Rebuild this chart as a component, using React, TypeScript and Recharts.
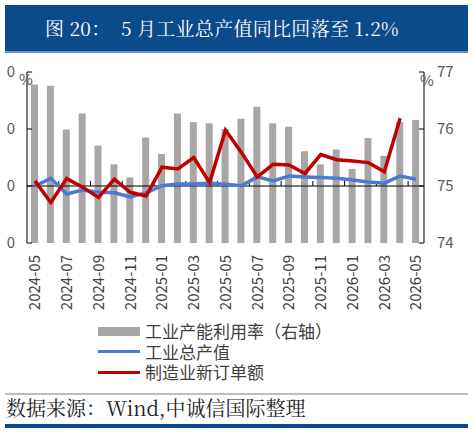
import React from "react";
import {
  ComposedChart,
  Bar,
  Line,
  XAxis,
  YAxis,
  ReferenceLine,
} from "recharts";

// monthly series, 2024-05 .. 2026-05
const months = [
  "2024-05", "2024-06", "2024-07", "2024-08", "2024-09", "2024-10", "2024-11", "2024-12",
  "2025-01", "2025-02", "2025-03", "2025-04", "2025-05", "2025-06", "2025-07", "2025-08",
  "2025-09", "2025-10", "2025-11", "2025-12", "2026-01", "2026-02", "2026-03", "2026-04",
  "2026-05",
];

// 工业产能利用率 (%), right axis
const capacityUse = [
  76.78, 76.76, 75.99, 76.27, 75.71, 75.38, 75.15, 75.85,
  75.56, 76.27, 76.12, 76.1, 76.0, 76.18, 76.39, 76.1,
  76.04, 75.61, 75.38, 75.64, 75.3, 75.84, 75.53, 76.12,
  76.16,
];

// 工业总产值 同比 (%), left axis
const grossOutput = [
  0, 1.35, -1.4, -0.7, -1.1, -1.2, -1.9, -1.2,
  0.05, 0.35, 0.35, 0.5, 0.3, 0.05, 1.6, 0.9,
  1.75, 1.6, 1.5, 1.35, 1.05, 0.7, 0.5, 1.75,
  1.2,
];

// 制造业新订单额 (%), left axis; no print for the last month
const newOrders: (number | null)[] = [
  0.9, -2.9, 1.3, -0.2, -2.0, 1.2, -1.1, -1.75,
  3.3, 3.0, 5.0, 0.6, 9.8, 5.9, 1.6, 3.8,
  3.7, 2.2, 5.5, 4.6, 4.4, 4.1, 2.5, 11.9,
  null,
];

const leftTicks = [-10, 0, 10, 20];
const rightTicks = [74, 75, 76, 77];

const data = months.map((m, i) => ({
  month: m,
  capacity: capacityUse[i],
  output: grossOutput[i],
  orders: newOrders[i],
}));

const AXIS_FONT = '"Noto Sans CJK SC", "Noto Sans", sans-serif';
const TITLE_FONT = '"Noto Serif CJK SC", "Noto Sans Mono CJK SC", "Noto Sans CJK SC", serif';
const GRAY = "#aaa6a6";
const BLUE = "#4a7ad4";
const RED = "#c00000";

const LeftTick = (props: any) => {
  const { x, y, payload } = props;
  return (
    <g>
      <line x1={x + 12} x2={x + 17} y1={y} y2={y} stroke="#000" />
      <text x={x} y={y} dy="0.36em" textAnchor="end" fill="#595959" fontSize={15} fontFamily={AXIS_FONT}>
        {payload.value}
      </text>
    </g>
  );
};

const RightTick = (props: any) => {
  const { x, y, payload } = props;
  return (
    <g>
      <line x1={x - 13} x2={x - 18} y1={y} y2={y} stroke="#000" />
      <text x={x} y={y} dy="0.36em" textAnchor="start" fill="#595959" fontSize={15} fontFamily={AXIS_FONT}>
        {payload.value}
      </text>
    </g>
  );
};

const MonthTick = (props: any) => {
  const { x, y, payload } = props;
  return (
    <text
      x={x}
      y={y}
      dy="0.36em"
      textAnchor="end"
      transform={`rotate(-90, ${x}, ${y})`}
      fill="#404040"
      fontSize={15}
      fontFamily={AXIS_FONT}
    >
      {payload.value}
    </text>
  );
};

// zero line with small upward ticks every two months
const ZeroLine = (props: any) => {
  const { x1, y1, x2, y2 } = props;
  const step = (x2 - x1) / months.length;
  const marks = [];
  for (let k = 2; k < months.length; k += 2) {
    const tx = x1 + step * k;
    marks.push(<line key={k} x1={tx} x2={tx} y1={y1} y2={y1 - 5} stroke="#000" />);
  }
  return (
    <g>
      <line x1={x1} y1={y1} x2={x2} y2={y2} stroke="#000" strokeWidth={1} />
      {marks}
    </g>
  );
};

const legendItems = [
  { label: "工业产能利用率（右轴）", color: GRAY, h: 9 },
  { label: "工业总产值", color: BLUE, h: 3 },
  { label: "制造业新订单额", color: RED, h: 3 },
];

export default function App() {
  return (
    <div
      style={{
        position: "absolute",
        left: 0,
        top: 0,
        width: 474,
        height: 433,
        background: "#fff",
        overflow: "hidden",
      }}
    >
      {/* title bar */}
      <div
        style={{
          position: "absolute",
          left: 5,
          top: 5,
          width: 463,
          height: 46,
          background: "#0b4a8b",
          borderBottom: "2px solid #6f90b8",
        }}
      >
        <div
          style={{
            position: "absolute",
            left: 40,
            top: 10,
            color: "#fff",
            fontSize: 19,
            fontFamily: TITLE_FONT,
            whiteSpace: "pre",
            lineHeight: "26px",
            letterSpacing: 0.3,
          }}
        >
          图 20：  5 月工业总产值同比回落至 1.2%
        </div>
      </div>

      {/* chart, clipped on the left */}
      <div style={{ position: "absolute", left: 6, top: 0, width: 468, height: 320, overflow: "hidden" }}>
        <div style={{ marginLeft: -6 }}>
          <ComposedChart
            width={474}
            height={320}
            data={data}
            margin={{ top: 72, right: 0, bottom: 7, left: 0 }}
          >
            <XAxis
              dataKey="month"
              xAxisId="x"
              axisLine={false}
              tickLine={false}
              tickSize={0}
              tickMargin={12}
              interval={1}
              height={70}
              tick={<MonthTick />}
            />
            <YAxis
              yAxisId="left"
              orientation="left"
              width={27}
              domain={[-10, 20]}
              ticks={leftTicks}
              interval={0}
              axisLine={{ stroke: "#000" }}
              tickLine={false}
              tickSize={0}
              tickMargin={12}
              tick={<LeftTick />}
            />
            <YAxis
              yAxisId="right"
              orientation="right"
              width={50}
              domain={[74, 77]}
              ticks={rightTicks}
              interval={0}
              axisLine={{ stroke: "#000" }}
              tickLine={false}
              tickSize={0}
              tickMargin={13}
              tick={<RightTick />}
            />
            <Bar
              dataKey="capacity"
              xAxisId="x"
              yAxisId="right"
              fill={GRAY}
              barSize={7}
              isAnimationActive={false}
            />
            <ReferenceLine xAxisId="x" yAxisId="left" y={0} shape={<ZeroLine />} />
            <Line
              dataKey="output"
              xAxisId="x"
              yAxisId="left"
              type="linear"
              stroke={BLUE}
              strokeWidth={3.5}
              dot={false}
              isAnimationActive={false}
            />
            <Line
              dataKey="orders"
              xAxisId="x"
              yAxisId="left"
              type="linear"
              stroke={RED}
              strokeWidth={3.5}
              dot={false}
              connectNulls={false}
              isAnimationActive={false}
            />
          </ComposedChart>
        </div>
        <span style={{ position: "absolute", left: 13, top: 70, fontSize: 15, lineHeight: "18px", color: "#595959", fontFamily: AXIS_FONT }}>%</span>
        <span style={{ position: "absolute", left: 414, top: 71, fontSize: 15, lineHeight: "18px", color: "#595959", fontFamily: AXIS_FONT }}>%</span>
      </div>

      {/* legend */}
      <div style={{ position: "absolute", left: 98, top: 321, fontFamily: AXIS_FONT, fontSize: 17, color: "#404040" }}>
        {legendItems.map((it) => (
          <div key={it.label} style={{ display: "flex", alignItems: "center", height: 20.5, whiteSpace: "nowrap" }}>
            <div style={{ width: 42, height: it.h, background: it.color, marginRight: 5 }} />
            <span style={{ lineHeight: "20px" }}>{it.label}</span>
          </div>
        ))}
      </div>

      {/* source */}
      <div style={{ position: "absolute", left: 5, top: 393, width: 463, height: 2, background: "#bdbdbd" }} />
      <div
        style={{
          position: "absolute",
          left: 6,
          top: 396,
          fontSize: 20,
          fontFamily: TITLE_FONT,
          color: "#222",
          whiteSpace: "pre",
          lineHeight: "24px",
        }}
      >
        数据来源：Wind,中诚信国际整理
      </div>
      <div style={{ position: "absolute", left: 5, top: 424, width: 463, height: 4, background: "#0b4a8b" }} />
    </div>
  );
}
